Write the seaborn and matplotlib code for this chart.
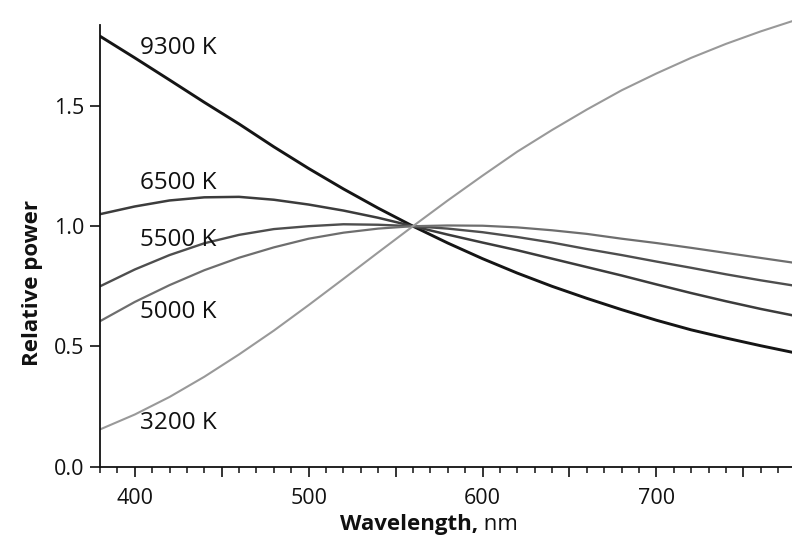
import pandas as pd
import matplotlib
matplotlib.use("Agg")
import matplotlib.pyplot as plt
from matplotlib.ticker import MultipleLocator, FixedLocator, FixedFormatter, FuncFormatter
import seaborn as sns

# ==============================================================================
# DATA
# ==============================================================================
wavelength_nm = [380, 400, 420, 440, 460, 480, 500, 520, 540, 560, 580,
                 600, 620, 640, 660, 680, 700, 720, 740, 760, 780]

power_9300k = [1.79, 1.70, 1.608, 1.515, 1.425, 1.33, 1.24, 1.155, 1.075, 1.00, 0.93,
               0.865, 0.805, 0.75, 0.70, 0.653, 0.609, 0.569, 0.535, 0.503, 0.473]
power_6500k = [1.05, 1.082, 1.107, 1.12, 1.122, 1.11, 1.09, 1.065, 1.035, 1.00, 0.965,
               0.932, 0.90, 0.865, 0.83, 0.795, 0.758, 0.722, 0.688, 0.656, 0.627]
power_5500k = [0.75, 0.82, 0.88, 0.929, 0.964, 0.988, 1.00, 1.008, 1.006, 1.00, 0.99,
               0.975, 0.955, 0.932, 0.905, 0.88, 0.853, 0.827, 0.80, 0.775, 0.752]
power_5000k = [0.605, 0.685, 0.755, 0.817, 0.869, 0.912, 0.948, 0.973, 0.99, 1.00, 1.003,
               1.002, 0.995, 0.983, 0.968, 0.948, 0.93, 0.91, 0.889, 0.868, 0.847]
power_3200k = [0.155, 0.217, 0.29, 0.374, 0.467, 0.566, 0.672, 0.781, 0.891, 1.00, 1.107,
               1.21, 1.31, 1.40, 1.485, 1.565, 1.635, 1.70, 1.758, 1.81, 1.857]

temperatures = ["9300 K", "6500 K", "5500 K", "5000 K", "3200 K"]
label_y = [1.74, 1.18, 0.943, 0.643, 0.182]

# ==============================================================================
# STYLE
# ==============================================================================
sns.set_theme(style="ticks")
plt.rcParams["font.family"] = ["Open Sans", "DejaVu Sans"]

INK = "#111111"
line_colors = {
    "9300 K": "#151515",
    "6500 K": "#3c3c3c",
    "5500 K": "#4e4e4e",
    "5000 K": "#6e6e6e",
    "3200 K": "#999999",
}
line_widths = {"9300 K": 2.1, "6500 K": 1.8, "5500 K": 1.7, "5000 K": 1.6, "3200 K": 1.5}


def build_frame() -> pd.DataFrame:
    series = [power_9300k, power_6500k, power_5500k, power_5000k, power_3200k]
    frames = []
    for name, values in zip(temperatures, series):
        frames.append(pd.DataFrame({
            "Wavelength": wavelength_nm,
            "Relative power": values,
            "Temperature": name,
        }))
    return pd.concat(frames, ignore_index=True)


def plot(df: pd.DataFrame) -> None:
    fig = plt.figure(figsize=(7.92, 5.38), dpi=100)
    ax = fig.add_axes([100 / 792, 71.3 / 538, 692 / 792, 466.7 / 538])

    for name in temperatures:
        sns.lineplot(
            data=df[df["Temperature"] == name],
            x="Wavelength",
            y="Relative power",
            color=line_colors[name],
            linewidth=line_widths[name],
            ax=ax,
            legend=False,
        )

    ax.set_xlim(380, 778)
    ax.set_ylim(0, 1.9405)

    # axes look
    sns.despine(ax=ax)
    for side in ["left", "bottom"]:
        ax.spines[side].set_color(INK)
        ax.spines[side].set_linewidth(1.3)
    ax.spines["left"].set_bounds(0, 1.837)

    ax.yaxis.set_major_locator(FixedLocator([0.0, 0.5, 1.0, 1.5]))
    ax.yaxis.set_major_formatter(FixedFormatter(["0.0", "0.5", "1.0", "1.5"]))
    ax.xaxis.set_major_locator(MultipleLocator(50))
    ax.xaxis.set_major_formatter(FuncFormatter(lambda v, p: f"{v:.0f}" if v % 100 == 0 else ""))
    ax.xaxis.set_minor_locator(MultipleLocator(10))

    ax.tick_params(axis="x", which="major", direction="out", length=7.5, width=1.2,
                   pad=8, labelsize=15.5, colors=INK)
    ax.tick_params(axis="x", which="minor", direction="out", length=4.5, width=1.1,
                   colors=INK)
    ax.tick_params(axis="y", which="major", direction="out", length=7.5, width=1.2,
                   pad=4, labelsize=15.5, colors=INK)

    ax.set_xlabel("")
    ax.set_ylabel("")

    # curve labels
    for name, y in zip(temperatures, label_y):
        ax.text(403, y, name, fontsize=17.5, color=INK, ha="left", va="center")

    # axis titles
    fig.text(33 / 792, 1 - 283 / 538, "Relative power", rotation=90, fontsize=16,
             fontweight="bold", ha="center", va="center", color=INK)
    t = fig.text(340 / 792, 8 / 538, "Wavelength,", fontsize=16, fontweight="bold",
                 ha="left", va="baseline", color=INK)
    fig.canvas.draw()
    bb = t.get_window_extent()
    fig.text(bb.x1 / fig.bbox.width, 8 / 538, " nm", fontsize=16, ha="left",
             va="baseline", color=INK)

    fig.savefig("out.png", dpi=100, facecolor="white")


if __name__ == "__main__":
    plot(build_frame())
